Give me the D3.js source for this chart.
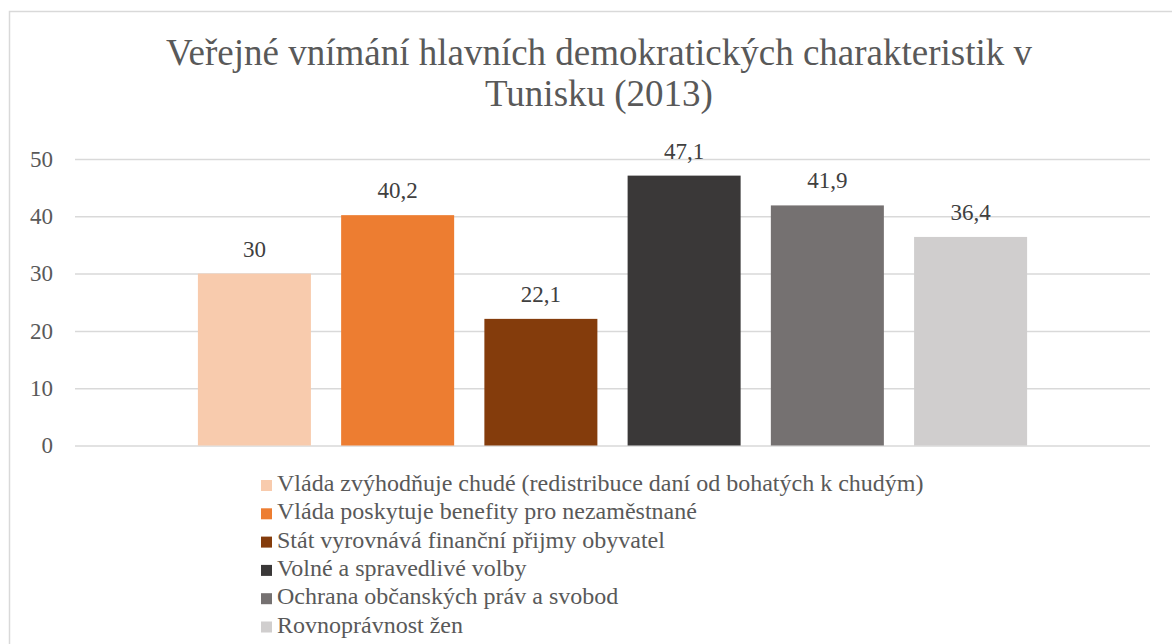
<!DOCTYPE html>
<html><head><meta charset="utf-8">
<script src="https://cdn.jsdelivr.net/npm/d3@7"></script>
<style>body{margin:0;background:#fff}svg{display:block}</style>
</head><body><svg id="c" width="1172" height="644"></svg>
<script>
const titleLines = ["Veřejné vnímání hlavních demokratických charakteristik v", "Tunisku (2013)"];
const series = ["Vláda zvýhodňuje chudé (redistribuce daní od bohatých k chudým)",
  "Vláda poskytuje benefity pro nezaměstnané",
  "Stát vyrovnává finanční přijmy obyvatel",
  "Volné a spravedlivé volby",
  "Ochrana občanských práv a svobod",
  "Rovnoprávnost žen"];
const values = [30, 40.2, 22.1, 47.1, 41.9, 36.4];
const colors = ["#F8CBAD", "#ED7D31", "#843C0C", "#3A3838", "#757171", "#D0CECE"];
const yTicks = [0, 10, 20, 30, 40, 50];

const FONT = "Liberation Serif";
const svg = d3.select("#c");
svg.append("rect").attr("x", 9.5).attr("y", 11.5).attr("width", 1180).attr("height", 660)
  .attr("fill", "#fff").attr("stroke", "#D9D9D9").attr("stroke-width", 1.5);

const plotL = 75, plotR = 1150;
const y = d3.scaleLinear().domain([0, 50]).range([445.5, 159]);
const x = d3.scaleBand().domain(series).range([plotL, plotR]).paddingInner(0.211).paddingOuter(0.858);

// title
svg.append("g").selectAll("text").data(titleLines).join("text")
  .attr("x", 599).attr("y", (d, i) => 65 + i * 41)
  .attr("text-anchor", "middle")
  .style("font-family", FONT).style("font-size", "37px").style("fill", "#595959")
  .text(d => d);

// grid + y axis
const yAxis = d3.axisLeft(y).tickValues(yTicks).tickSize(-(plotR - plotL)).tickPadding(22).tickFormat(d3.format("d"));
const ga = svg.append("g").attr("transform", `translate(${plotL},0)`).call(yAxis);
ga.select(".domain").remove();
ga.selectAll(".tick line").attr("stroke", "#D9D9D9").attr("stroke-width", 1.5);
ga.selectAll(".tick text")
  .style("font-family", FONT).style("font-size", "23px").style("fill", "#595959");

// bars
svg.append("g").selectAll("rect").data(values).join("rect")
  .attr("x", (d, i) => x(series[i])).attr("width", x.bandwidth())
  .attr("y", d => y(d)).attr("height", d => y(0) - y(d))
  .attr("fill", (d, i) => colors[i]);

// labels
const fmt = v => String(v).replace(".", ",");
svg.append("g").selectAll("text").data(values).join("text")
  .attr("x", (d, i) => x(series[i]) + x.bandwidth() / 2).attr("y", d => y(d) - 17)
  .attr("text-anchor", "middle")
  .style("font-family", FONT).style("font-size", "23px").style("fill", "#404040")
  .text(fmt);

// legend
const lg = svg.append("g").selectAll("g").data(series).join("g")
  .attr("transform", (d, i) => `translate(261,${491 + i * 28.3})`);
lg.append("rect").attr("x", 0).attr("y", -11).attr("width", 11).attr("height", 11)
  .attr("fill", (d, i) => colors[i]);
lg.append("text").attr("x", 16).attr("y", 0)
  .style("font-family", FONT).style("font-size", "24px").style("fill", "#595959")
  .text(d => d);
</script></body></html>
